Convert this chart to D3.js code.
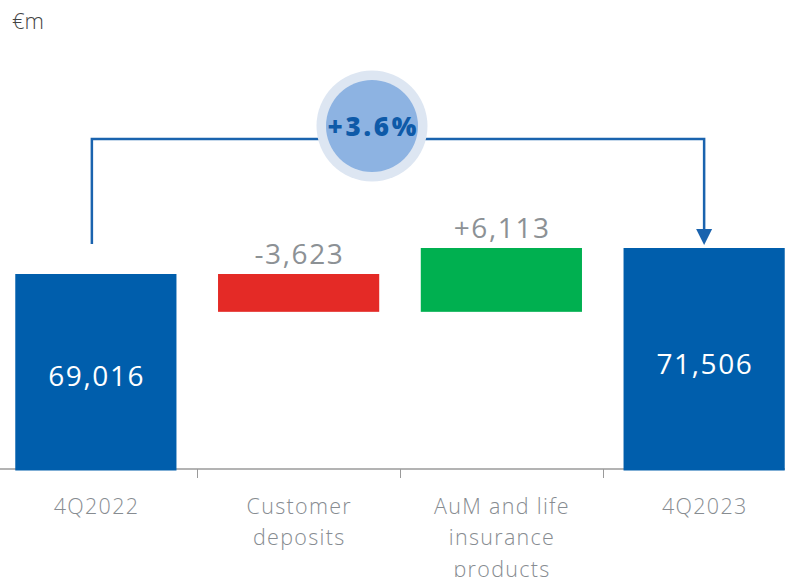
<!DOCTYPE html>
<html>
<head>
<meta charset="utf-8">
<script src="https://cdn.jsdelivr.net/npm/d3@7"></script>
<style>
  body { margin: 0; background: #fff; }
  svg { display: block; font-family: 'Open Sans', sans-serif; }
</style>
</head>
<body>
<div id="chart"></div>
<script>
const width = 785;
const height = 577;

// data
const categories = ['4Q2022', 'Customer deposits', 'AuM and life insurance products', '4Q2023'];
const catLines = [['4Q2022'], ['Customer', 'deposits'], ['AuM and life', 'insurance', 'products'], ['4Q2023']];
const values = [69016, -3623, 6113, 71506];
const kinds = ['total', 'delta', 'delta', 'total'];
const valueLabels = ['69,016', '-3,623', '+6,113', '71,506'];
const changeLabel = '+3.6%';
const unitLabel = '€m';

const colors = {total: '#005eac', neg: '#e42a26', pos: '#00b050'};

// waterfall steps
let run = 0;
const steps = values.map((v, i) => {
  let lo, hi;
  if (kinds[i] === 'total') { lo = null; hi = v; run = v; }
  else { lo = Math.min(run, run + v); hi = Math.max(run, run + v); run += v; }
  return {cat: categories[i], lo, hi, v, kind: kinds[i], label: valueLabels[i], lines: catLines[i]};
});

const svg = d3.select('#chart').append('svg')
  .attr('width', width).attr('height', height);

const x = d3.scaleBand()
  .domain(categories)
  .range([-5, 805])
  .paddingInner(0.205)
  .paddingOuter(0.1);

const y = d3.scaleLinear()
  .domain([50340, 71506])
  .range([469, 248]);

const base = y.range()[0];
const cx = d => x(d) + x.bandwidth() / 2;

// baseline + ticks
svg.append('line')
  .attr('x1', 0).attr('x2', width)
  .attr('y1', base).attr('y2', base)
  .attr('stroke', '#9a9a9a').attr('stroke-width', 1.5);

categories.slice(1).forEach(c => {
  const tx = Math.round(x(c) - x.step() * x.paddingInner() / 2) + 0.5;
  svg.append('line')
    .attr('x1', tx).attr('x2', tx)
    .attr('y1', base).attr('y2', base + 9)
    .attr('stroke', '#9a9a9a').attr('stroke-width', 1);
});

// bars
svg.selectAll('rect.bar')
  .data(steps)
  .join('rect')
  .attr('class', 'bar')
  .attr('x', d => x(d.cat))
  .attr('width', x.bandwidth())
  .attr('y', d => y(d.hi))
  .attr('height', d => d.kind === 'total' ? base + 1.5 - y(d.hi) : y(d.lo) - y(d.hi))
  .attr('fill', d => d.kind === 'total' ? colors.total : (d.v < 0 ? colors.neg : colors.pos));

// value labels (letter-spacing adds trailing space, so nudge x back by half)
const vSpace = 1.6;
svg.selectAll('text.val')
  .data(steps)
  .join('text')
  .attr('class', 'val')
  .attr('x', d => cx(d.cat) + vSpace / 2)
  .attr('y', d => d.kind === 'total' ? (y(d.hi) + base) / 2 + 4 : y(d.hi) - 21)
  .attr('text-anchor', 'middle')
  .attr('dominant-baseline', 'central')
  .attr('font-size', 28)
  .attr('font-weight', 400)
  .attr('letter-spacing', vSpace)
  .attr('fill', d => d.kind === 'total' ? '#fff' : '#8c9195')
  .text(d => d.label);

// category labels
const cSpace = 1.3;
steps.forEach(d => {
  const t = svg.append('text')
    .attr('text-anchor', 'middle')
    .attr('font-size', 21.5)
    .attr('font-weight', 300)
    .attr('letter-spacing', cSpace)
    .attr('fill', '#878c91');
  d.lines.forEach((ln, i) => {
    t.append('tspan')
      .attr('x', cx(d.cat) + cSpace / 2)
      .attr('y', 505 + i * 31.5)
      .attr('dominant-baseline', 'central')
      .text(ln);
  });
});

// connector
const lineY = 139;
const x0 = cx(categories[0]) - 4;
const x1 = cx(categories[3]);
const arrowTip = y(values[3]) - 3;
svg.append('path')
  .attr('d', `M${x0},${y(values[0]) - 30} V${lineY} H${x1} V${arrowTip - 14}`)
  .attr('fill', 'none')
  .attr('stroke', '#1a63ae')
  .attr('stroke-width', 2.5);
svg.append('path')
  .attr('d', `M${x1 - 8},${arrowTip - 16} L${x1 + 8},${arrowTip - 16} L${x1},${arrowTip} Z`)
  .attr('fill', '#1a63ae');

// bubble
const bx = 372, by = 126;
svg.append('circle').attr('cx', bx).attr('cy', by).attr('r', 55.5).attr('fill', '#dde6f2');
svg.append('circle').attr('cx', bx).attr('cy', by).attr('r', 46).attr('fill', '#8db3e2');
const bSpace = 2.8;
svg.append('text')
  .attr('x', bx + bSpace / 2).attr('y', by)
  .attr('text-anchor', 'middle')
  .attr('dominant-baseline', 'central')
  .attr('font-size', 26)
  .attr('font-weight', 800)
  .attr('letter-spacing', bSpace)
  .attr('fill', '#0e5aa8')
  .text(changeLabel);

// unit
svg.append('text')
  .attr('x', 12).attr('y', 20)
  .attr('dominant-baseline', 'central')
  .attr('font-size', 22)
  .attr('font-weight', 300)
  .attr('fill', '#444')
  .text(unitLabel);
</script>
</body>
</html>
